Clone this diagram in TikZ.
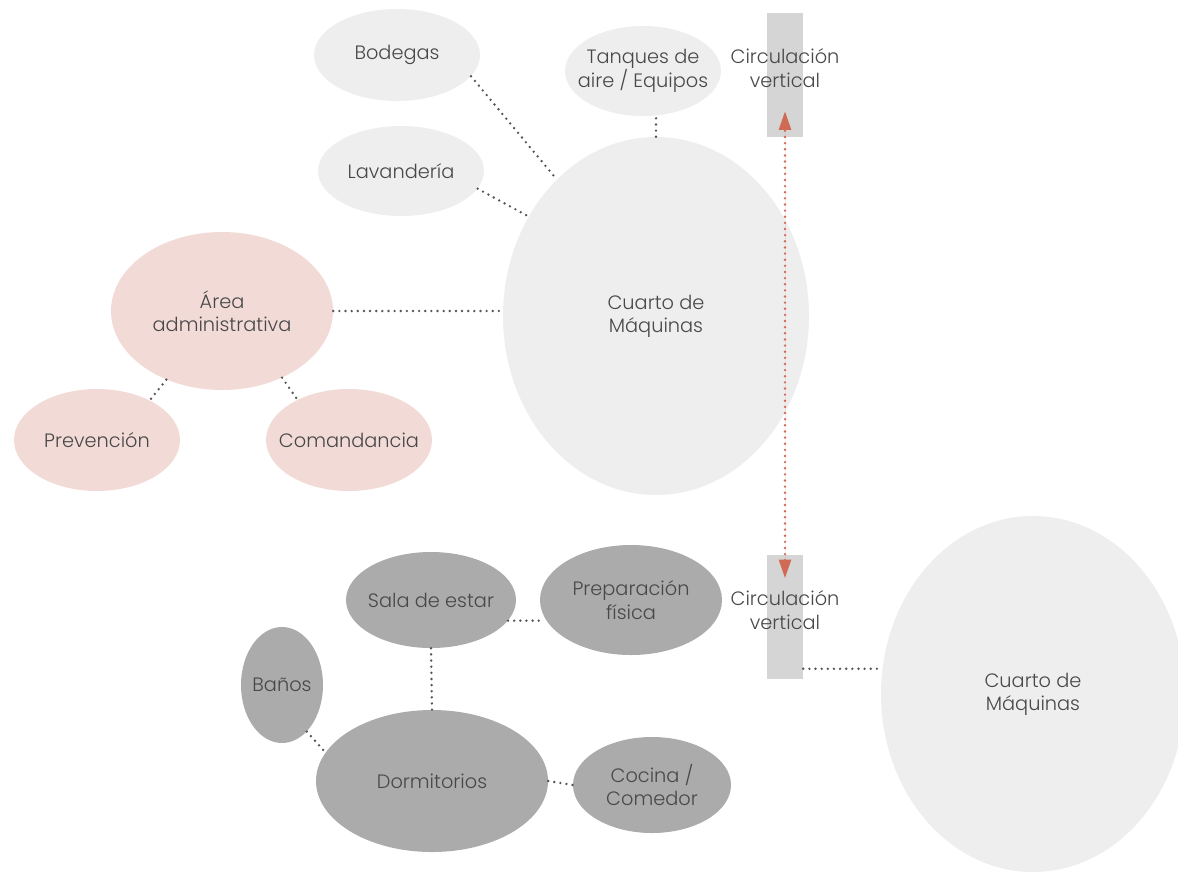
\documentclass[tikz,border=0pt]{standalone}
\usepackage{fontspec}
\setmainfont{Poppins}[UprightFont={* Light}]
\usetikzlibrary{shapes.geometric,arrows.meta}
\definecolor{bubgray}{HTML}{EEEEEE}
\definecolor{bubpink}{HTML}{F2DBD7}
\definecolor{bubdark}{HTML}{AAABAA}
\definecolor{shaft}{HTML}{D5D5D5}
\definecolor{inkgray}{HTML}{484848}
\definecolor{linkgray}{HTML}{555555}
\definecolor{linkred}{HTML}{D06A55}
\tikzset{
  bub/.style={ellipse, inner sep=0pt, draw=none},
  light/.style={bub, fill=bubgray},
  pink/.style={bub, fill=bubpink},
  dark/.style={bub, fill=bubdark},
  txt/.style={text=inkgray, align=center, inner sep=0pt,
    font=\fontsize{14.5}{17.5}\selectfont},
  shaftbox/.style={rectangle, fill=shaft, inner sep=0pt,
    minimum width=27pt, minimum height=93pt},
  link/.style={draw=linkgray, line width=2pt, line cap=round,
    dash pattern=on 0pt off 4.6pt},
  redlink/.style={draw=linkred, line width=2pt, line cap=round,
    dash pattern=on 0pt off 4.6pt,
    {Triangle[length=14pt,width=9pt]}-{Triangle[length=14pt,width=9pt]},
    fill=linkred},
}
\begin{document}
\begin{tikzpicture}[x=0.75pt, y=-0.75pt]
\useasboundingbox (0,0) rectangle (1178,872);

% upper level
\node[light, minimum width=124.5pt, minimum height=69pt,
  label={[txt]center:Bodegas}] (bod) at (397,55) {};
\node[light, minimum width=117pt, minimum height=67.5pt,
  label={[txt]center:Tanques de\\aire / Equipos}] (tq) at (643,71) {};
\node[light, minimum width=124.5pt, minimum height=67.5pt,
  label={[txt]center:Lavandería}] (lav) at (401,171) {};
\node[light, minimum width=229.5pt, minimum height=268.5pt,
  label={[txt]center:Cuarto de\\Máquinas}] (cm) at (656,316) {};
\node[pink, minimum width=166.5pt, minimum height=118.5pt,
  label={[txt]center:Área\\administrativa}] (area) at (222,311) {};
\node[pink, minimum width=124.5pt, minimum height=76.5pt,
  label={[txt]center:Prevención}] (prev) at (97,440) {};
\node[pink, minimum width=124.5pt, minimum height=76.5pt,
  label={[txt]center:Comandancia}] (com) at (349,440) {};
\node[shaftbox] (ct) at (785,75) {};
\node[txt] (ctl) at (785,68) {Circulación\\vertical};

% lower level
\node[light, minimum width=228pt, minimum height=267pt,
  label={[txt]center:Cuarto de\\Máquinas}] (cm2) at (1033,694) {};
\node[shaftbox] (cb) at (785,616.5) {};
\node[txt] (cbl) at (785,610) {Circulación\\vertical};
\node[dark, minimum width=127.5pt, minimum height=72pt,
  label={[txt]center:Sala de estar}] (sala) at (431,600) {};
\node[dark, minimum width=136.5pt, minimum height=82.5pt,
  label={[txt]center:Preparación\\física}] (prep) at (631,600) {};
\node[dark, minimum width=61.5pt, minimum height=87pt,
  label={[txt]center:Baños}] (ban) at (282,685) {};
\node[dark, minimum width=174pt, minimum height=106.5pt,
  label={[txt]center:Dormitorios}] (dorm) at (432,781) {};
\node[dark, minimum width=118.5pt, minimum height=72pt,
  label={[txt]center:Cocina /\\Comedor}] (coc) at (652,785) {};

% connectors
\draw[link] (bod.-16) -- (cm.126);
\draw[link] (lav.-13) -- (cm.142);
\draw[link] (cm.north) -- (cm.north |- tq.south);
\draw[link] (area.east) -- (area.east -| cm.west);
\draw[link] (area.-129) -- (prev.37);
\draw[link] (area.-48) -- (com.142);
\draw[link] (sala.-15) -- (sala.-15 -| prep.west);
\draw[link] (sala.south) -- (dorm.north);
\draw[link] (ban.-62) -- (dorm.165);
\draw[link] (dorm.east) -- (coc.west);
\draw[link] (cb.south east) ++(0,-10) coordinate (cbo) -- (cbo -| cm2.west);

% vertical circulation link between levels
\coordinate (uptip) at ([yshift=19.5pt]ct.south);
\coordinate (downtip) at ([yshift=-18pt]cb.north);
\draw[redlink] (downtip) -- (uptip);
\end{tikzpicture}
\end{document}
